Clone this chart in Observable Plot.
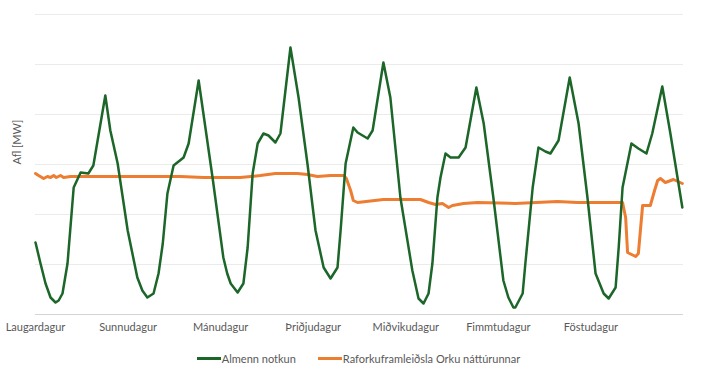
<!DOCTYPE html>
<html>
<head>
<meta charset="utf-8">
<script src="https://cdn.jsdelivr.net/npm/d3@7"></script>
<script src="https://cdn.jsdelivr.net/npm/@observablehq/plot@0.6"></script>
<style>
  html, body { margin: 0; padding: 0; background: #fff; }
  #chart { width: 713px; }
  .legend { display: flex; justify-content: center; align-items: center; gap: 22px;
    font-family: Lato, "Open Sans", sans-serif; font-size: 11px; color: #595959; height: 32px; padding-left: 4px; }
  .legend span.item { display: flex; align-items: center; }
  .legend i { display: inline-block; width: 24px; height: 3px; margin-right: 1px; }
</style>
</head>
<body>
<div id="chart"></div>
<script>
// Day labels (tick positions at the start of each day, hours)
const dayLabels = ["Laugardagur", "Sunnudagur", "Mánudagur", "Þriðjudagur", "Miðvikudagur", "Fimmtudagur", "Föstudagur"];
const dayTicks = [0, 24, 48, 72, 96, 120, 144];

// Almenn notkun (general consumption) — hours since start, relative values
const greenHours = [0, 1.3, 2.6, 3.9, 5.2, 6.0, 7.0, 8.3, 9.9, 11.7, 13.7, 15.0, 18.1, 19.4, 21.3, 23.9, 26.4, 27.7, 29.0, 30.6, 31.9, 33.0, 34.2, 35.8, 38.4, 39.7,
  42.3, 45.9, 48.7, 49.7, 50.6, 52.4, 53.9, 55.0, 56.3, 57.6, 59.1, 60.4, 62.2, 63.5, 66.1, 68.2, 70.5, 72.6, 74.7, 76.5, 78.3, 79.1, 80.4,
  82.4, 83.5, 84.8, 86.1, 87.4, 90.2, 92.0, 94.6, 97.7, 99.3, 100.6, 101.9, 102.9, 104.2, 105.0, 106.3, 107.6, 109.7, 111.5, 114.3, 116.2,
  118.7, 121.3, 122.6, 123.9, 124.4, 126.3, 127.0, 128.9, 130.4, 132.2, 133.5, 135.6, 138.5, 140.8, 143.1, 145.2, 147.3, 148.6, 150.4, 151.2, 152.2, 154.5, 156.3,
  158.4, 159.9, 162.5, 164.6, 167.7];
const greenValues = [72, 51, 31, 17, 12, 14, 21, 51, 127, 142, 141, 149, 219, 184, 151, 84, 37, 24, 17, 21, 41, 71, 121, 149, 157, 171,
  234, 137, 57, 41, 31, 22, 31, 67, 141, 171, 181, 179, 172, 181, 267, 217, 151, 84, 47, 36, 47, 84, 151,
  187, 182, 179, 176, 184, 252, 217, 117, 44, 16, 11, 21, 51, 117, 137, 161, 157, 157, 167, 227, 191,
  117, 34, 17, 7, 7, 21, 51, 127, 167, 163, 161, 174, 237, 191, 117, 41, 21, 16, 27, 67, 127, 171, 166,
  161, 181, 228, 181, 107];

// Raforkuframleiðsla Orku náttúrunnar (ON power production)
const orangeHours = [0, 0.8, 2.1, 3.1, 3.9, 4.7, 5.4, 6.5, 7.3, 9.1, 16.9, 27.2, 37.6, 43.6, 53.1, 58.3, 62.2, 67.9, 70.5, 73.1,
  76.5, 79.9, 80.6, 81.7, 82.4, 83.5, 90.2, 99.8, 101.9, 103.7, 105.5, 107.1, 108.1, 111.0, 114.6, 124.4, 135.3, 140.5, 152.2, 153.0,
  153.5, 155.6, 156.3, 157.4, 158.7, 159.4, 160.5, 161.3, 162.0, 163.3, 165.4, 167.7];
const orangeValues = [141, 139, 136, 138, 137, 139, 137, 139, 137, 138, 138, 138, 138, 137, 137, 139, 141, 141, 140, 138,
  139, 139, 136, 124, 114, 112, 115, 115, 112, 110, 111, 107, 109, 111, 112, 111, 113, 112, 112, 97,
  62, 58, 61, 109, 109, 109, 124, 134, 136, 132, 135, 131];

const green = greenHours.map((h, i) => ({h, v: greenValues[i]}));
const orange = orangeHours.map((h, i) => ({h, v: orangeValues[i]}));

const GREEN = "#1b6628";
const ORANGE = "#ed7d31";

const chart = Plot.plot({
  width: 713,
  height: 342,
  marginLeft: 35,
  marginRight: 30,
  marginTop: 14,
  marginBottom: 28,
  style: {fontFamily: "Lato, 'Open Sans', sans-serif", background: "#fff"},
  x: {domain: [0, 168]},
  y: {domain: [0, 300]},
  marks: [
    Plot.gridY([50, 100, 150, 200, 250, 300], {stroke: "#ebebeb", strokeOpacity: 1, strokeWidth: 1}),
    Plot.ruleY([0], {stroke: "#d4d4d4", strokeWidth: 1.2}),
    Plot.axisX({ticks: dayTicks, tickFormat: (d) => dayLabels[dayTicks.indexOf(d)], tickSize: 0, tickPadding: 9,
      fontSize: 11, fill: "#595959", label: null}),
    Plot.axisY({ticks: [], label: null}),
    Plot.text(["Afl [MW]"], {frameAnchor: "left", text: (d) => d, rotate: -90, dx: -18, fontSize: 11, fill: "#595959"}),
    Plot.line(orange, {x: "h", y: "v", stroke: ORANGE, strokeWidth: 3, curve: "linear"}),
    Plot.line(green, {x: "h", y: "v", stroke: GREEN, strokeWidth: 2.5, curve: "linear"})
  ]
});
document.getElementById("chart").appendChild(chart);

const legend = document.createElement("div");
legend.className = "legend";
legend.innerHTML = `<span class="item"><i style="background:${GREEN}"></i>Almenn notkun</span>` +
  `<span class="item"><i style="background:${ORANGE}"></i>Raforkuframleiðsla Orku náttúrunnar</span>`;
document.getElementById("chart").appendChild(legend);
</script>
</body>
</html>
